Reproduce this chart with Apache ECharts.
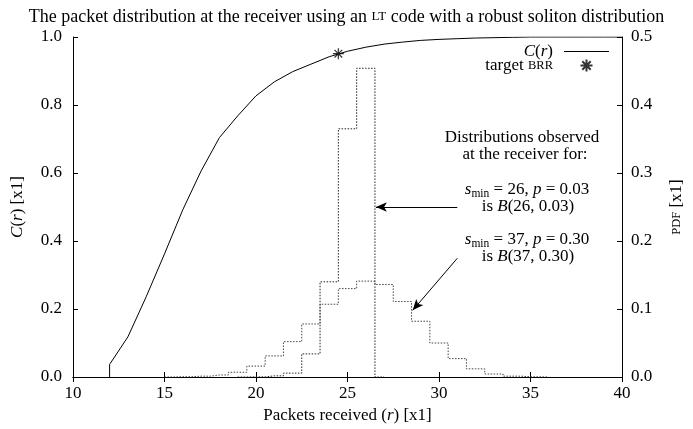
<!DOCTYPE html>
<html><head><meta charset="utf-8">
<script src="https://cdn.jsdelivr.net/npm/echarts@6/dist/echarts.min.js"></script>
<style>html,body{margin:0;padding:0;background:#fff}#c{width:693px;height:429px}</style>
</head><body><div id="c"></div>
<script>
// ---- data ----
const xTicks = [10, 15, 20, 25, 30, 35, 40];
const cTicks = [0.0, 0.2, 0.4, 0.6, 0.8, 1.0];
const pdfTicks = [0.0, 0.1, 0.2, 0.3, 0.4, 0.5];

// cumulative C(r)
const cR_r   = [12, 12, 13, 14, 15, 16, 17, 18, 19, 20, 21, 22, 23, 24, 25, 26, 27, 28, 29, 30, 31, 32, 33, 34, 35, 36, 37, 38, 39, 40];
const cR_val = [0, 0.037, 0.118, 0.236, 0.362, 0.492, 0.606, 0.704, 0.768, 0.827, 0.868, 0.898, 0.920, 0.942, 0.958, 0.970, 0.979, 0.985, 0.990, 0.993, 0.995, 0.997, 0.998, 0.999, 1.0, 1.0, 1.0, 1.0, 1.0, 1.0];

// target BRR point
const target_r = [24.5];
const target_val = [0.951];

// observed distribution s_min = 26, p = 0.03  (PDF, right axis)
const hist26_r   = [19, 20, 21, 22, 23, 24, 25, 26, 27];
const hist26_pdf = [0, 0.0002, 0.0017, 0.0057, 0.034, 0.140, 0.365, 0.454, 0];

// observed distribution s_min = 37, p = 0.30  (PDF, right axis)
const hist37_r   = [15, 16, 17, 18, 19, 20, 21, 22, 23, 24, 25, 26, 27, 28, 29, 30, 31, 32, 33, 34, 35, 36];
const hist37_pdf = [0, 0.0004, 0.0012, 0.003, 0.007, 0.016, 0.031, 0.052, 0.078, 0.107, 0.130, 0.141, 0.136, 0.111, 0.082, 0.050, 0.027, 0.012, 0.0044, 0.0012, 0.0003, 0];

// ---- chart ----
const FONT = 'Liberation Serif';
const FS = 17;
const zip = (a, b) => a.map((v, i) => [v, b[i]]);
const rich = {
  i: { fontFamily: FONT, fontStyle: 'italic', fontSize: FS, color: '#000' },
  sc: { fontFamily: FONT, fontSize: 12.5, color: '#000' }
};
const annRich = {
  n: { fontFamily: FONT, fontSize: FS, color: '#000', lineHeight: 20 },
  i: { fontFamily: FONT, fontSize: FS, fontStyle: 'italic', color: '#000', lineHeight: 20 },
  sub: { fontFamily: FONT, fontSize: 11.5, color: '#000', lineHeight: 12, verticalAlign: 'bottom' }
};

const chart = echarts.init(document.getElementById('c'), null, { renderer: 'canvas' });
const axisCommon = {
  axisLine: { show: true, lineStyle: { color: '#000', width: 1 } },
  axisTick: { show: true, inside: true, length: 5, lineStyle: { color: '#000' } },
  splitLine: { show: false },
  axisLabel: { fontFamily: FONT, fontSize: FS, color: '#000' },
  nameTextStyle: { fontFamily: FONT, fontSize: FS, color: '#000', rich: rich }
};

function annText(x, y, str) {
  return { type: 'text', x: x, y: y, silent: true,
    style: { text: str, rich: annRich, align: 'center', verticalAlign: 'middle',
             fontFamily: FONT, fontSize: FS, fill: '#000' } };
}

chart.setOption({
  animation: false,
  backgroundColor: '#fff',
  title: {
    text: 'The packet distribution at the receiver using an {sc|LT} code with a robust soliton distribution',
    left: 'center', top: 3,
    textStyle: { fontFamily: FONT, fontSize: 18, fontWeight: 'normal', color: '#000',
      rich: { sc: { fontFamily: FONT, fontSize: 13, color: '#000' } } }
  },
  grid: { left: 73, right: 66, top: 37, bottom: 52 },
  legend: {
    data: [
      { name: 'C(r)', icon: 'path://M0,0L0,0ZM0,5.5L45,5.5L45,6.6L0,6.6ZM0,12L0,12Z' },
      { name: 'target BRR' }
    ],
    orient: 'vertical', right: 84, top: 43, align: 'right', padding: 0,
    itemWidth: 45, itemHeight: 12, itemGap: -3,
    formatter: n => n === 'C(r)' ? '{i|C}({i|r})' : 'target {sc|BRR}',
    textStyle: { fontFamily: FONT, fontSize: FS, color: '#000', lineHeight: 14, rich: rich, padding: [0, 6, 0, 0] },
    selectedMode: false
  },
  xAxis: [
    Object.assign({}, axisCommon, {
      type: 'value', min: xTicks[0], max: xTicks[xTicks.length - 1], interval: xTicks[1] - xTicks[0],
      name: 'Packets received ({i|r}) [x1]', nameLocation: 'middle', nameGap: 27,
      axisLabel: Object.assign({}, axisCommon.axisLabel, { margin: 8 })
    }),
    Object.assign({}, axisCommon, {
      type: 'value', position: 'top', min: xTicks[0], max: xTicks[xTicks.length - 1], interval: xTicks[1] - xTicks[0],
      axisLabel: { show: false }
    })
  ],
  yAxis: [
    Object.assign({}, axisCommon, {
      type: 'value', min: cTicks[0], max: cTicks[cTicks.length - 1], interval: cTicks[1] - cTicks[0],
      name: '{i|C}({i|r}) [x1]', nameLocation: 'middle', nameGap: 47, nameRotate: 90,
      axisLabel: Object.assign({}, axisCommon.axisLabel, { margin: 11, formatter: v => v.toFixed(1) })
    }),
    Object.assign({}, axisCommon, {
      type: 'value', position: 'right', min: pdfTicks[0], max: pdfTicks[pdfTicks.length - 1], interval: pdfTicks[1] - pdfTicks[0],
      name: '{sc|PDF} [x1]', nameLocation: 'middle', nameGap: 46, nameRotate: 90,
      axisLabel: Object.assign({}, axisCommon.axisLabel, { margin: 9, formatter: v => v.toFixed(1) })
    })
  ],
  series: [
    {
      name: 'C(r)', type: 'line', xAxisIndex: 0, yAxisIndex: 0,
      data: zip(cR_r, cR_val), symbol: 'none', smooth: false,
      lineStyle: { color: '#000', width: 1 }, itemStyle: { color: '#000' }, z: 5
    },
    {
      name: 'target BRR', type: 'scatter', xAxisIndex: 0, yAxisIndex: 0,
      data: zip(target_r, target_val),
      symbol: 'path://M5,0L5,10M0,5L10,5M1.5,1.5L8.5,8.5M1.5,8.5L8.5,1.5', symbolSize: 11,
      itemStyle: { color: 'rgba(0,0,0,0)', borderColor: '#000', borderWidth: 1.2 }, z: 6
    },
    {
      name: 'B26', type: 'line', xAxisIndex: 0, yAxisIndex: 1, step: 'middle',
      data: zip(hist26_r, hist26_pdf), symbol: 'none',
      lineStyle: { color: '#222', width: 1, type: [1.5, 1.5] },
      markLine: {
        silent: true, symbol: ['none', 'arrow'], symbolSize: [7, 11],
        label: { show: false },
        lineStyle: { color: '#000', width: 1, type: 'solid' },
        data: [
          [{ coord: [31.0, 0.25] }, { coord: [26.55, 0.25] }],
          [{ coord: [31.0, 0.1746] }, { coord: [28.56, 0.098] }]
        ]
      }
    },
    {
      name: 'B37', type: 'line', xAxisIndex: 0, yAxisIndex: 1, step: 'middle',
      data: zip(hist37_r, hist37_pdf), symbol: 'none',
      lineStyle: { color: '#444', width: 1, type: [1.5, 1.5] }
    }
  ],
  graphic: [
    annText(522, 138, '{n|Distributions observed}'),
    annText(525, 155, '{n|at the receiver for:}'),
    annText(527, 190, '{i|s}{sub|min}{n| = 26, }{i|p}{n| = 0.03}'),
    annText(528, 207, '{n|is }{i|B}{n|(26, 0.03)}'),
    annText(527, 240, '{i|s}{sub|min}{n| = 37, }{i|p}{n| = 0.30}'),
    annText(528, 257, '{n|is }{i|B}{n|(37, 0.30)}')
  ]
});
</script></body></html>
